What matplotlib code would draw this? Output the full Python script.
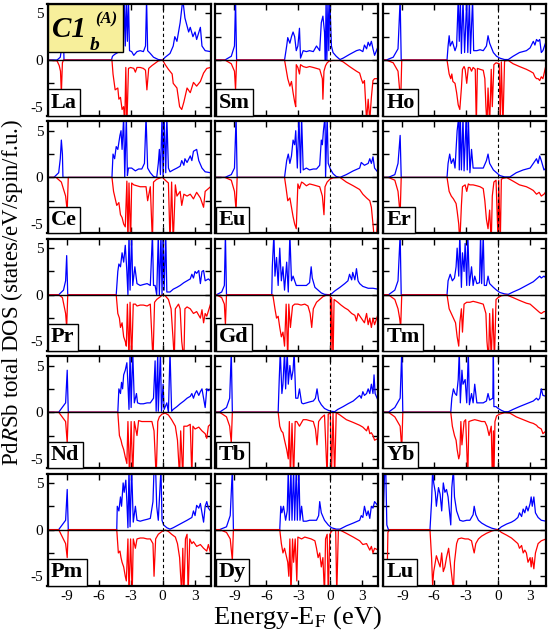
import matplotlib
matplotlib.use("Agg")
import matplotlib.pyplot as plt
from matplotlib.patches import Rectangle
from matplotlib.ticker import MultipleLocator

plt.rcParams["font.family"] = ["Liberation Serif", "DejaVu Serif"]
plt.rcParams["mathtext.fontset"] = "stix"
plt.rcParams["axes.unicode_minus"] = False

ELEMENTS = [["La", "Sm", "Ho"],
            ["Ce", "Eu", "Er"],
            ["Pr", "Gd", "Tm"],
            ["Nd", "Tb", "Yb"],
            ["Pm", "Dy", "Lu"]]

# (energy in eV, DOS) pairs; spin-down given as magnitude
LA_UP = [(-10.8,0),(-9.9,0),(-9.6,0.3),(-9.45,1.5),(-9.35,4.0),(-9.25,0),(-4.8,0),(-4.7,0.4),(-4.5,0.6),(-4.2,0.8),(-3.9,0.9),(-3.7,1.0),(-3.6,6.5),(-3.5,1.5),(-3.4,6.5),(-3.3,2.0),(-3.2,6.5),(-3.1,1.0),(-2.9,0.9),(-2.7,0.5),(-2.4,0.9),(-2.1,1.0),(-1.8,0.9),(-1.6,1.5),(-1.5,6.5),(-1.4,1.0),(-1.15,0.7),(-0.85,0.3),(-0.4,0.05),(0,0),(0.25,0.3),(0.7,0.7),(1.0,1.5),(1.15,2.5),(1.35,2.0),(1.65,4.0),(1.9,6.5),(2.1,4.5),(2.45,3.0),(2.6,3.5),(2.85,2.5),(3.05,3.0),(3.2,2.2),(3.55,3.5),(3.7,1.5),(4.0,1.0),(4.5,0.9)]
LA_DN = [(-10.8,0),(-9.9,0.1),(-9.7,0.6),(-9.58,1.2),(-9.5,3.6),(-9.4,0.3),(-9.3,0),(-4.75,0),(-4.65,1.5),(-4.45,3.2),(-4.2,3.0),(-4.1,4.2),(-3.95,4.0),(-3.8,5.3),(-3.65,5.0),(-3.55,7),(-3.45,0.8),(-3.35,7),(-3.2,0.9),(-3.0,0.8),(-2.7,0.9),(-2.55,1.3),(-2.4,0.8),(-2.1,0.8),(-1.8,0.9),(-1.6,1.1),(-1.47,3.2),(-1.3,0.9),(-1.0,0.6),(-0.7,0.35),(-0.4,0.1),(0,0),(0.25,0.5),(0.55,1.0),(0.9,1.5),(1.0,2.5),(1.35,3.0),(1.6,5.0),(1.8,5.3),(2.0,4.5),(2.3,3.0),(2.6,3.5),(2.9,2.4),(3.2,2.8),(3.55,2.3),(3.85,1.4),(4.15,0.9),(4.5,0.8)]

SM_UP = [(-10.8,0),(-9.9,0),(-9.3,0.4),(-9.0,1.5),(-8.9,6.5),(-8.8,0),(-4.3,0),(-4.1,1.5),(-4.0,2.4),(-3.8,1.8),(-3.65,2.5),(-3.5,3.0),(-3.35,2.5),(-3.2,1.0),(-3.05,1.5),(-2.9,3.4),(-2.8,0.2),(-2.55,1.0),(-2.25,0.9),(-1.95,1.0),(-1.6,0.9),(-1.3,1.5),(-1.0,1.0),(-0.85,4.0),(-0.7,4.7),(-0.55,3.0),(-0.47,0),(-0.4,6.5),(-0.33,0),(-0.22,6.5),(-0.15,1.0),(-0.05,6.5),(0.1,1.5),(0.25,0.8),(0.55,0.4),(0.9,0.05),(1.2,0.2),(1.8,0.6),(2.45,1.0),(2.75,1.1),(3.05,0.9),(3.2,1.6),(3.4,1.2),(3.55,1.9),(3.7,1.5),(3.85,2.0),(4.0,1.2),(4.15,0.5),(4.5,1.5)]
SM_DN = [(-10.8,0),(-9.9,0),(-9.3,0.4),(-9.0,1.2),(-8.9,3.2),(-8.8,0),(-4.3,0),(-4.15,1.0),(-4.0,2.0),(-3.8,2.8),(-3.65,2.3),(-3.5,3.5),(-3.35,4.5),(-3.25,5.0),(-3.2,0.5),(-3.05,0.8),(-2.9,1.5),(-2.8,0.5),(-2.55,0.7),(-2.25,0.8),(-1.95,0.7),(-1.6,0.8),(-1.3,0.9),(-1.0,1.0),(-0.75,2.0),(-0.7,4.2),(-0.6,1.2),(-0.45,0.6),(-0.3,0.3),(-0.1,0.1),(0.25,0.05),(0.9,0.05),(1.2,0.2),(1.8,0.7),(2.45,1.2),(2.75,1.4),(2.9,2.0),(3.05,2.5),(3.2,2.2),(3.4,6.5),(3.55,4.2),(3.7,6.5),(3.85,4.0),(4.0,2.2),(4.15,2.0),(4.5,2.0)]

HO_UP = [(-10.8,0),(-10.5,0),(-9.85,0.3),(-9.4,1.2),(-9.2,6.5),(-9.1,0),(-4.8,0),(-4.7,1.5),(-4.6,2.6),(-4.5,1.5),(-4.3,2.0),(-4.05,1.0),(-3.9,1.5),(-3.75,6.5),(-3.65,2.0),(-3.55,6.5),(-3.45,0.7),(-3.3,6.5),(-3.15,0.8),(-2.95,6.5),(-2.85,0.8),(-2.7,6.5),(-2.6,0.7),(-2.4,6.5),(-2.3,1.0),(-2.0,1.0),(-1.7,1.1),(-1.4,1.0),(-1.1,1.5),(-0.95,2.6),(-0.8,1.8),(-0.45,0.8),(-0.15,0.4),(0.15,0.2),(0.6,0.05),(0.95,0.05),(1.4,0.4),(2.0,0.8),(2.65,1.0),(3.0,1.3),(3.3,2.0),(3.45,1.6),(3.6,2.2),(3.75,2.0),(3.9,2.2),(4.05,0.8),(4.2,1.0),(4.5,2.0)]
HO_DN = [(-10.8,0),(-10.5,0),(-9.85,0.3),(-9.4,1.2),(-9.15,4.5),(-9.05,0),(-4.8,0),(-4.6,1.5),(-4.45,2.0),(-4.35,1.5),(-4.25,2.3),(-4.05,2.5),(-3.9,3.5),(-3.75,4.8),(-3.6,5.3),(-3.45,3.0),(-3.35,1.0),(-3.2,0.7),(-3.1,1.0),(-2.95,2.5),(-2.8,0.8),(-2.65,0.8),(-2.5,1.2),(-2.35,0.8),(-2.15,1.0),(-2.05,7),(-1.95,0.9),(-1.7,1.0),(-1.4,1.1),(-1.25,2.0),(-1.15,5.0),(-1.05,7),(-0.95,3.0),(-0.8,7),(-0.65,1.0),(-0.55,5.0),(-0.4,0.5),(-0.2,0.3),(0.1,0.4),(0.2,7),(0.3,0.2),(0.45,7),(0.6,0.1),(0.95,0.05),(1.4,0.4),(2.0,0.7),(2.65,1.0),(3.0,1.2),(3.3,1.4),(3.45,1.8),(3.6,2.0),(3.75,2.0),(3.9,2.2),(4.05,1.8),(4.2,2.0),(4.5,0.5)]

CE_UP = [(-10.8,0),(-10.2,0),(-9.75,0.5),(-9.6,2.0),(-9.5,4.0),(-9.4,2.5),(-9.35,0),(-4.75,0),(-4.65,2.5),(-4.5,2.0),(-4.35,3.3),(-4.2,3.0),(-4.0,4.5),(-3.9,5.0),(-3.8,3.0),(-3.65,6.5),(-3.55,0),(-3.4,6.5),(-3.3,0.2),(-3.2,1.0),(-2.9,1.0),(-2.55,0.7),(-2.25,0.9),(-1.95,0.9),(-1.7,1.5),(-1.55,6.5),(-1.4,1.0),(-1.15,0.5),(-0.85,0.1),(-0.55,0),(-0.4,1.5),(-0.3,3.0),(-0.2,0.3),(-0.05,6.5),(0.05,0),(0.15,6.5),(0.3,0.5),(0.4,6.5),(0.55,1.0),(0.7,0.6),(1.0,0.8),(1.35,1.0),(1.65,1.2),(1.8,1.8),(2.0,1.3),(2.1,2.0),(2.3,1.6),(2.6,2.3),(2.75,1.8),(2.9,2.8),(3.2,3.0),(3.4,1.8),(3.7,1.0),(4.0,0.6),(4.5,0.5)]
CE_DN = [(-10.8,0),(-10.0,0),(-9.5,0.5),(-9.1,2.0),(-8.95,3.6),(-8.85,0),(-4.75,0),(-4.6,1.5),(-4.3,3.0),(-4.1,2.7),(-3.95,4.0),(-3.8,4.3),(-3.65,5.0),(-3.5,5.3),(-3.35,0.4),(-3.25,7),(-3.15,0.6),(-3.0,7),(-2.9,0.6),(-2.7,0.8),(-2.4,0.9),(-2.1,1.0),(-1.8,1.0),(-1.55,1.0),(-1.4,2.5),(-1.15,1.0),(-0.95,7),(-0.85,0.5),(-0.55,0.2),(-0.2,0.05),(0,0),(0.25,0.3),(0.55,0.6),(0.7,7),(0.85,0.5),(1.0,7),(1.2,0.8),(1.35,2.0),(1.65,1.5),(1.8,3.0),(2.0,1.8),(2.3,2.0),(2.6,1.8),(2.9,2.3),(3.2,1.6),(3.55,2.2),(3.85,3.2),(4.0,1.5),(4.5,1.0)]

EU_UP = [(-10.8,0),(-9.9,0),(-9.3,0.3),(-9.0,1.0),(-8.85,6.5),(-8.75,0),(-4.3,0),(-4.1,1.8),(-3.95,2.5),(-3.8,1.5),(-3.65,2.3),(-3.5,4.0),(-3.35,3.5),(-3.25,5.0),(-3.1,1.0),(-2.95,6.5),(-2.8,0.5),(-2.7,6.5),(-2.55,0.8),(-2.25,1.0),(-1.95,0.8),(-1.6,0.9),(-1.3,0.9),(-1.0,1.3),(-0.85,4.0),(-0.75,3.5),(-0.65,5.0),(-0.5,6.5),(-0.45,0),(-0.3,6.5),(-0.2,1.5),(0,0.9),(0.25,0.4),(0.55,0.1),(0.9,0),(1.5,0.3),(2.15,0.7),(2.75,1.0),(2.9,1.6),(3.2,1.3),(3.55,1.5),(3.7,2.0),(3.85,1.5),(4.0,2.2),(4.15,1.0),(4.5,0.5)]
EU_DN = [(-10.8,0),(-9.9,0),(-9.3,0.3),(-9.0,1.5),(-8.85,3.5),(-8.75,0),(-4.3,0),(-4.15,1.2),(-4.0,2.5),(-3.8,2.2),(-3.65,3.2),(-3.5,4.2),(-3.35,5.0),(-3.2,5.5),(-3.05,0.7),(-2.9,1.2),(-2.7,0.5),(-2.55,0.6),(-2.25,0.9),(-1.95,0.7),(-1.6,0.8),(-1.3,0.9),(-1.0,1.0),(-0.75,2.0),(-0.6,4.0),(-0.5,1.0),(-0.3,0.5),(-0.05,0.2),(0.25,0.05),(0.9,0),(1.5,0.5),(2.15,0.9),(2.75,1.3),(3.05,1.8),(3.4,2.2),(3.7,2.5),(3.85,3.2),(4.0,5.0),(4.15,7),(4.3,7),(4.5,3.0)]

ER_UP = [(-10.8,0),(-10.3,0),(-9.7,0.3),(-9.4,1.5),(-9.2,4.5),(-9.1,0),(-4.8,0),(-4.7,1.5),(-4.55,2.5),(-4.4,1.5),(-4.2,2.0),(-4.05,1.0),(-3.85,5.0),(-3.7,6.5),(-3.65,0.8),(-3.55,6.5),(-3.45,0.8),(-3.3,6.5),(-3.2,0.7),(-3.0,6.5),(-2.9,0.8),(-2.8,6.5),(-2.65,0.5),(-2.5,3.0),(-2.35,1.0),(-2.0,1.0),(-1.7,1.0),(-1.4,1.0),(-1.1,1.8),(-0.95,2.5),(-0.8,1.5),(-0.45,0.8),(-0.15,0.5),(0.15,0.2),(0.6,0.05),(1.1,0.05),(1.7,0.5),(2.35,0.8),(3.0,1.0),(3.3,1.5),(3.6,2.0),(3.75,1.5),(3.9,2.3),(4.05,1.8),(4.3,0.8),(4.5,1.0)]
ER_DN = [(-10.8,0),(-10.3,0),(-9.7,0.3),(-9.4,1.5),(-9.2,4.0),(-9.1,0),(-4.8,0),(-4.6,1.5),(-4.4,2.0),(-4.2,2.3),(-3.95,2.8),(-3.85,3.6),(-3.7,5.0),(-3.6,7),(-3.45,3.0),(-3.35,1.0),(-3.1,0.8),(-2.95,1.5),(-2.8,0.7),(-2.65,0.8),(-2.35,0.8),(-2.0,0.9),(-1.7,1.0),(-1.4,1.2),(-1.25,2.5),(-1.1,4.5),(-0.95,5.5),(-0.8,3.5),(-0.65,7),(-0.55,2.0),(-0.4,0.5),(-0.2,0.3),(0,7),(0.05,0.3),(0.2,7),(0.3,0.2),(0.45,0.1),(0.8,0.02),(1.4,0.4),(2.0,0.8),(2.65,1.0),(3.0,1.2),(3.3,1.4),(3.6,1.8),(3.85,1.6),(4.05,2.0),(4.3,1.8),(4.5,1.5)]

PR_UP = [(-10.8,0),(-9.75,0),(-9.3,0.5),(-9.1,1.5),(-9.0,4.2),(-8.9,0),(-4.35,0),(-4.2,2.5),(-4.1,3.3),(-3.95,3.0),(-3.8,4.5),(-3.65,3.5),(-3.5,5.3),(-3.35,2.5),(-3.25,0),(-3.15,6.5),(-3.05,0.5),(-2.9,6.5),(-2.8,1.0),(-2.6,3.0),(-2.4,1.2),(-2.1,1.0),(-1.8,1.1),(-1.45,1.2),(-1.15,1.0),(-0.95,6.5),(-0.85,1.0),(-0.7,1.0),(-0.55,0),(-0.4,6.5),(-0.3,0),(-0.15,6.5),(-0.05,0),(0.05,6.5),(0.15,0.5),(0.3,6.5),(0.4,0.3),(0.7,0.3),(1.0,0.6),(1.35,0.8),(1.65,1.0),(2.0,1.3),(2.3,1.5),(2.6,1.7),(2.75,2.2),(2.9,1.8),(3.05,2.5),(3.2,2.3),(3.4,2.6),(3.55,1.2),(3.7,2.5),(3.85,2.6),(4.0,1.5),(4.3,1.7),(4.5,1.5)]
PR_DN = [(-10.8,0),(-9.75,0),(-9.4,0.3),(-9.1,2.0),(-9.0,3.5),(-8.9,0),(-4.35,0),(-4.2,2.0),(-4.05,2.5),(-3.95,3.5),(-3.8,3.0),(-3.65,4.5),(-3.5,5.0),(-3.4,5.5),(-3.3,1.0),(-3.15,7),(-3.05,0.8),(-2.9,7),(-2.75,1.0),(-2.55,1.0),(-2.4,1.2),(-2.1,1.1),(-1.8,1.1),(-1.45,1.2),(-1.15,1.0),(-0.9,7),(-0.75,0.8),(-0.55,0.5),(-0.2,0.2),(0,0),(0.25,0.1),(0.55,0.5),(0.8,1.5),(1.0,5.0),(1.1,7),(1.2,1.5),(1.5,1.0),(1.65,1.5),(1.8,5.0),(2.0,7),(2.1,1.5),(2.3,1.3),(2.6,1.5),(2.9,2.0),(3.2,1.8),(3.55,2.5),(3.7,1.6),(3.85,3.0),(4.0,2.0),(4.15,2.3),(4.5,1.0)]

GD_UP = [(-10.8,0),(-10.7,0),(-10.2,0.3),(-9.95,1.0),(-9.85,6.5),(-9.75,0),(-5.5,0),(-5.45,3.0),(-5.3,6.5),(-5.2,2.0),(-5.05,4.0),(-4.9,1.0),(-4.75,5.0),(-4.6,1.5),(-4.45,3.0),(-4.3,0.5),(-4.1,3.5),(-3.95,0.3),(-3.8,6.5),(-3.65,1.5),(-3.5,2.0),(-3.35,1.5),(-3.2,1.0),(-2.9,1.0),(-2.55,1.0),(-2.25,1.0),(-1.95,1.3),(-1.8,3.0),(-1.7,1.8),(-1.45,0.8),(-1.15,0.5),(-0.85,0.2),(-0.55,0.05),(0,0),(0.4,0.4),(0.9,0.8),(1.35,1.2),(1.65,1.5),(1.8,2.2),(2.0,1.6),(2.1,2.4),(2.3,1.6),(2.45,2.8),(2.6,1.5),(2.75,1.2),(3.05,0.9),(3.55,0.7),(4.0,0.7),(4.5,0.6)]
GD_DN = [(-10.8,0),(-10.7,0),(-10.2,0.3),(-9.95,1.0),(-9.85,3.2),(-9.75,0),(-5.4,0),(-5.2,1.5),(-5.05,2.5),(-4.9,2.3),(-4.75,3.5),(-4.6,4.5),(-4.45,4.0),(-4.3,5.5),(-4.15,1.0),(-4.0,7),(-3.9,1.0),(-3.75,3.5),(-3.55,1.2),(-3.35,1.0),(-3.05,1.0),(-2.75,1.1),(-2.4,1.0),(-2.1,1.2),(-1.9,2.0),(-1.75,3.5),(-1.6,1.5),(-1.3,0.8),(-1.0,0.5),(-0.7,0.2),(-0.4,0.05),(0,0),(0.05,7),(0.12,0.3),(0.25,7),(0.35,0.5),(0.7,0.8),(1.0,1.1),(1.35,1.4),(1.65,1.6),(2.0,2.0),(2.3,2.2),(2.45,2.8),(2.6,2.0),(2.9,2.5),(3.2,3.0),(3.4,2.0),(3.55,3.2),(3.7,2.5),(3.85,3.5),(4.0,2.5),(4.15,3.2),(4.5,2.0)]

TM_UP = [(-10.8,0),(-10.3,0),(-9.7,0.5),(-9.4,1.5),(-9.2,6.5),(-9.1,0),(-4.8,0),(-4.7,1.5),(-4.5,2.2),(-4.3,1.5),(-4.1,1.8),(-3.95,3.0),(-3.85,5.0),(-3.7,2.0),(-3.6,6.5),(-3.45,0.8),(-3.35,4.5),(-3.2,2.5),(-3.1,5.5),(-2.95,1.0),(-2.85,6.5),(-2.7,1.0),(-2.5,3.0),(-2.35,1.0),(-2.2,2.0),(-2.0,1.2),(-1.75,1.3),(-1.65,6.5),(-1.55,1.2),(-1.4,6.5),(-1.3,1.0),(-1.1,1.0),(-0.95,2.0),(-0.8,1.2),(-0.45,0.8),(-0.15,0.5),(0.15,0.25),(0.6,0.1),(0.95,0.05),(1.4,0.3),(2.0,0.6),(2.65,1.0),(3.3,1.4),(3.6,1.7),(3.9,2.0),(4.05,1.8),(4.3,2.0),(4.5,1.8)]
TM_DN = [(-10.8,0),(-10.3,0),(-9.7,0.5),(-9.4,1.5),(-9.25,2.5),(-9.15,3.5),(-9.05,0),(-4.8,0),(-4.6,1.5),(-4.4,2.0),(-4.2,2.5),(-4.0,3.0),(-3.85,4.5),(-3.7,5.5),(-3.6,3.0),(-3.45,1.5),(-3.35,4.0),(-3.2,1.0),(-2.95,0.8),(-2.65,0.8),(-2.35,0.7),(-2.0,0.8),(-1.7,0.9),(-1.4,1.0),(-1.15,2.0),(-1.05,5.0),(-0.9,7),(-0.8,2.0),(-0.65,7),(-0.5,1.5),(-0.35,7),(-0.2,0.5),(0,0.3),(0.3,0.1),(0.8,0.02),(1.4,0.3),(2.0,0.6),(2.65,0.9),(3.0,1.0),(3.3,1.3),(3.6,1.6),(3.9,1.9),(4.05,2.0),(4.3,1.8),(4.5,1.8)]

ND_UP = [(-10.8,0),(-9.75,0),(-9.1,1.0),(-8.95,4.5),(-8.85,0),(-4.2,0),(-4.1,2.5),(-3.95,2.0),(-3.85,3.2),(-3.75,2.5),(-3.65,4.0),(-3.5,4.5),(-3.35,5.3),(-3.25,3.0),(-3.15,0.3),(-3.05,6.5),(-2.95,0.5),(-2.8,6.5),(-2.65,1.0),(-2.45,2.0),(-2.35,1.0),(-2.1,0.9),(-1.8,0.9),(-1.45,1.0),(-1.15,1.0),(-0.85,1.5),(-0.7,5.5),(-0.6,0.1),(-0.45,6.5),(-0.4,0.1),(-0.2,6.5),(-0.1,0.1),(0.05,3.0),(0.15,0.3),(0.4,1.0),(0.55,0),(0.7,6.5),(0.85,0.1),(1.0,0.3),(1.35,0.6),(1.65,0.9),(2.0,1.2),(2.3,1.5),(2.6,1.7),(2.75,2.0),(2.9,1.5),(3.05,2.0),(3.2,2.3),(3.4,1.8),(3.55,2.2),(3.7,2.5),(3.85,1.5),(4.0,0.5),(4.15,2.5),(4.3,2.3),(4.5,2.5)]
ND_DN = [(-10.8,0),(-9.75,0),(-9.1,1.0),(-8.95,3.3),(-8.85,0),(-4.2,0),(-4.05,2.5),(-3.9,3.0),(-3.8,3.5),(-3.65,4.0),(-3.5,4.8),(-3.35,5.5),(-3.25,1.0),(-3.1,7),(-2.95,1.0),(-2.8,7),(-2.65,1.0),(-2.4,2.5),(-2.25,0.9),(-1.95,1.0),(-1.6,1.0),(-1.3,1.0),(-1.0,1.0),(-0.8,2.0),(-0.6,7),(-0.45,1.0),(-0.3,0.5),(-0.05,0.2),(0.25,0.1),(0.55,0.3),(0.85,0.8),(1.2,1.5),(1.4,3.0),(1.6,7),(1.7,2.0),(1.9,7),(2.0,1.5),(2.3,1.5),(2.6,1.3),(2.75,7),(2.85,1.5),(3.05,1.8),(3.4,1.6),(3.7,2.0),(4.0,2.3),(4.15,2.8),(4.3,1.5),(4.5,1.3)]

TB_UP = [(-10.8,0),(-10.4,0),(-9.75,0.5),(-9.45,1.5),(-9.3,6.5),(-9.2,0),(-4.9,0),(-4.8,3.5),(-4.7,6.5),(-4.55,2.0),(-4.45,3.0),(-4.3,6.5),(-4.2,2.5),(-4.05,6.5),(-3.95,3.0),(-3.8,5.0),(-3.65,3.5),(-3.5,4.5),(-3.4,6.5),(-3.25,1.5),(-3.05,1.5),(-2.9,2.5),(-2.7,1.0),(-2.55,0.9),(-2.25,1.0),(-1.95,1.1),(-1.6,1.2),(-1.4,1.5),(-1.25,2.5),(-1.1,1.3),(-0.85,0.8),(-0.55,0.4),(-0.2,0.2),(0.1,0.1),(0.4,0.05),(0.7,0.3),(1.2,0.6),(1.65,0.9),(2.15,1.2),(2.45,1.5),(2.75,1.8),(2.9,1.5),(3.05,2.2),(3.2,1.8),(3.4,2.0),(3.55,2.5),(3.7,2.0),(3.85,3.0),(4.0,2.0),(4.1,4.0),(4.2,2.0),(4.5,1.2)]
TB_DN = [(-10.8,0),(-10.4,0),(-9.75,0.5),(-9.45,1.5),(-9.3,3.3),(-9.2,0),(-4.9,0),(-4.75,1.5),(-4.6,2.0),(-4.45,2.2),(-4.3,3.0),(-4.1,4.0),(-3.95,5.0),(-3.85,1.0),(-3.75,7),(-3.6,1.2),(-3.45,7),(-3.3,1.0),(-3.15,1.0),(-2.9,1.5),(-2.55,0.8),(-2.25,0.8),(-1.95,0.9),(-1.6,1.0),(-1.4,1.8),(-1.25,3.5),(-1.1,1.0),(-0.85,0.6),(-0.55,0.3),(-0.3,7),(-0.2,0.2),(0,0.1),(0.1,7),(0.25,0.1),(0.4,7),(0.55,0.05),(0.9,0.3),(1.5,0.8),(2.15,1.1),(2.75,1.4),(3.05,1.6),(3.4,2.0),(3.55,1.5),(3.7,2.3),(3.85,2.2),(4.0,2.5),(4.15,3.0),(4.5,2.8)]

YB_UP = [(-10.8,0),(-10.3,0),(-9.7,0.5),(-9.2,1.5),(-9.05,6.5),(-8.95,0),(-4.45,0),(-4.35,1.5),(-4.2,2.5),(-4.05,2.0),(-3.9,1.8),(-3.75,3.5),(-3.65,6.5),(-3.55,1.0),(-3.4,4.5),(-3.3,3.0),(-3.1,3.5),(-2.95,1.0),(-2.8,6.5),(-2.7,0.8),(-2.5,2.0),(-2.35,1.0),(-2.2,3.0),(-2.0,1.0),(-1.7,1.0),(-1.4,1.0),(-1.1,1.2),(-0.95,2.0),(-0.8,1.3),(-0.5,1.5),(-0.45,6.5),(-0.4,0.6),(-0.2,0.6),(0,0.4),(0.3,0.2),(0.6,0.05),(0.95,0.05),(1.4,0.3),(2.0,0.6),(2.65,0.9),(3.3,1.2),(3.6,1.5),(3.75,1.3),(3.9,1.5),(4.05,2.5),(4.2,1.8),(4.5,1.7)]
YB_DN = [(-10.8,0),(-10.3,0),(-9.7,0.5),(-9.2,1.5),(-9.05,4.0),(-8.95,0),(-4.45,0),(-4.3,1.5),(-4.1,2.5),(-3.95,3.0),(-3.85,4.0),(-3.7,5.0),(-3.6,4.5),(-3.5,1.0),(-3.4,3.5),(-3.2,1.0),(-3.05,0.8),(-2.85,7),(-2.75,1.0),(-2.5,0.9),(-2.2,0.8),(-1.85,0.9),(-1.55,1.0),(-1.25,1.0),(-1.05,1.5),(-0.85,2.5),(-0.65,1.5),(-0.55,7),(-0.45,2.0),(-0.4,7),(-0.3,1.0),(-0.15,0.4),(0.15,0.2),(0.6,0.05),(1.1,0.1),(1.7,0.5),(2.35,0.8),(3.0,1.1),(3.3,1.2),(3.6,1.4),(3.75,1.6),(3.9,1.7),(4.05,1.8),(4.2,2.3),(4.5,2.0)]

PM_UP = [(-10.8,0),(-9.75,0),(-9.1,1.0),(-8.95,4.3),(-8.85,0),(-4.3,0),(-4.25,2.5),(-4.1,2.0),(-3.95,3.5),(-3.85,2.5),(-3.7,5.0),(-3.6,4.0),(-3.45,5.3),(-3.35,3.0),(-3.25,0.2),(-3.15,6.5),(-3.05,0.3),(-2.9,6.5),(-2.75,0.8),(-2.55,2.5),(-2.4,1.0),(-2.1,0.9),(-1.8,1.0),(-1.45,1.1),(-1.15,1.2),(-0.9,3.0),(-0.8,6.5),(-0.65,6.5),(-0.55,2.5),(-0.4,1.0),(-0.15,6.5),(-0.05,1.0),(0.1,0.5),(0.4,0.2),(0.7,0.05),(1.0,0.2),(1.65,0.6),(2.3,1.0),(2.75,1.3),(2.9,2.0),(3.05,1.5),(3.2,2.6),(3.4,2.3),(3.55,2.8),(3.7,1.8),(3.85,0.8),(4.0,2.5),(4.15,3.0),(4.3,2.3),(4.5,2.0)]
PM_DN = [(-10.8,0),(-9.75,0),(-9.1,1.5),(-8.95,3.0),(-8.85,0),(-4.3,0),(-4.15,2.5),(-4.0,2.3),(-3.9,3.0),(-3.8,3.5),(-3.65,4.0),(-3.5,5.0),(-3.4,5.5),(-3.25,1.0),(-3.15,7),(-3.0,1.0),(-2.85,7),(-2.75,1.0),(-2.55,2.0),(-2.4,1.0),(-2.1,0.9),(-1.8,0.9),(-1.45,1.0),(-1.15,1.0),(-0.9,1.5),(-0.8,5.0),(-0.65,1.0),(-0.4,0.5),(-0.05,0.2),(0.25,0.05),(0.55,0.2),(0.85,0.5),(1.2,0.8),(1.4,1.5),(1.6,3.0),(1.8,7),(1.9,2.0),(2.0,7),(2.15,1.0),(2.3,0.5),(2.4,7),(2.55,1.0),(2.75,1.5),(2.9,1.3),(3.2,1.8),(3.55,1.6),(3.85,2.0),(4.15,2.3),(4.3,1.6),(4.5,2.5)]

DY_UP = [(-10.8,0),(-10.4,0),(-9.75,0.3),(-9.4,1.5),(-9.2,6.5),(-9.1,0),(-4.75,0),(-4.65,2.5),(-4.55,1.8),(-4.4,2.5),(-4.2,1.0),(-4.05,2.0),(-3.95,6.5),(-3.85,1.0),(-3.7,6.5),(-3.6,1.0),(-3.45,6.5),(-3.35,1.0),(-3.2,6.5),(-3.1,1.0),(-2.95,6.5),(-2.85,1.0),(-2.7,2.5),(-2.55,0.9),(-2.25,0.9),(-1.95,1.0),(-1.6,1.0),(-1.3,1.0),(-1.1,1.5),(-1.0,3.0),(-0.85,1.8),(-0.55,1.0),(-0.2,0.5),(0.1,0.2),(0.55,0.05),(0.9,0.05),(1.5,0.4),(2.15,0.7),(2.75,1.0),(2.9,1.5),(3.05,1.3),(3.2,2.5),(3.4,1.5),(3.55,2.0),(3.7,1.2),(3.85,2.5),(4.0,2.3),(4.15,3.0),(4.5,2.5)]
DY_DN = [(-10.8,0),(-10.4,0),(-9.75,0.3),(-9.4,1.0),(-9.2,3.3),(-9.1,0),(-4.75,0),(-4.6,1.5),(-4.45,2.5),(-4.3,2.0),(-4.1,3.0),(-4.0,3.5),(-3.9,5.0),(-3.8,1.0),(-3.7,7),(-3.55,1.0),(-3.45,3.5),(-3.3,1.0),(-3.15,5.5),(-3.05,0.8),(-2.7,1.0),(-2.4,0.8),(-2.1,0.9),(-1.8,1.0),(-1.45,1.2),(-1.3,2.0),(-1.15,3.0),(-1.0,2.5),(-0.85,4.0),(-0.7,3.0),(-0.55,7),(-0.45,1.0),(-0.3,0.5),(-0.2,7),(-0.05,0.5),(0.1,0.2),(0.25,0.05),(0.5,0.05),(0.6,7),(0.75,0.1),(0.9,0.05),(1.5,0.4),(2.15,0.8),(2.75,1.2),(3.05,1.6),(3.4,1.5),(3.7,2.2),(3.85,1.8),(4.0,2.5),(4.15,2.0),(4.5,2.2)]

LU_UP = [(-10.8,1.0),(-10.65,6.5),(-10.55,6.5),(-10.45,0.5),(-10.3,0),(-6.4,0),(-6.25,3.0),(-6.15,6.5),(-6.05,5.0),(-5.9,4.0),(-5.8,2.5),(-5.6,4.5),(-5.45,3.8),(-5.3,2.0),(-5.15,5.0),(-5.0,4.0),(-4.85,4.3),(-4.7,3.5),(-4.45,0.5),(-4.35,4.5),(-4.2,6.5),(-4.1,3.5),(-3.9,2.0),(-3.75,1.5),(-3.6,1.0),(-3.3,0.9),(-2.95,1.0),(-2.65,1.0),(-2.35,1.6),(-2.25,2.5),(-2.1,1.6),(-1.85,1.0),(-1.55,0.7),(-1.1,0.4),(-0.6,0.15),(-0.15,0.02),(0,0),(0.3,0.3),(0.8,0.6),(1.25,0.8),(1.55,1.0),(1.85,1.3),(2.0,1.8),(2.2,1.4),(2.35,2.2),(2.5,1.8),(2.65,2.5),(2.8,2.0),(3.0,2.8),(3.1,3.5),(3.2,2.5),(3.35,3.5),(3.5,1.8),(3.75,1.3),(4.05,1.0),(4.5,0.9)]
LU_DN = [(-10.8,2.0),(-10.6,7),(-10.45,7),(-10.35,0.3),(-10.2,0),(-6.4,0),(-6.25,3.0),(-6.15,6.0),(-6.05,4.5),(-5.9,3.5),(-5.8,2.8),(-5.6,3.5),(-5.45,4.0),(-5.3,2.5),(-5.15,4.5),(-5.0,4.0),(-4.85,3.0),(-4.65,2.0),(-4.45,4.0),(-4.3,5.5),(-4.2,6.5),(-4.1,3.5),(-3.9,1.5),(-3.75,1.0),(-3.45,0.9),(-3.1,1.0),(-2.8,1.0),(-2.5,1.2),(-2.35,2.0),(-2.25,2.5),(-2.1,1.5),(-1.85,1.0),(-1.55,0.7),(-1.1,0.4),(-0.6,0.15),(-0.15,0.02),(0,0),(0.3,0.3),(0.8,0.6),(1.25,0.9),(1.55,1.2),(1.85,1.5),(2.0,2.0),(2.2,1.7),(2.35,2.5),(2.5,2.2),(2.65,2.5),(2.8,3.5),(3.0,3.0),(3.1,4.0),(3.2,3.0),(3.35,4.2),(3.5,2.5),(3.75,1.5),(4.05,1.2),(4.5,1.0)]

DOS = {
    "La": (LA_UP, LA_DN), "Sm": (SM_UP, SM_DN), "Ho": (HO_UP, HO_DN),
    "Ce": (CE_UP, CE_DN), "Eu": (EU_UP, EU_DN), "Er": (ER_UP, ER_DN),
    "Pr": (PR_UP, PR_DN), "Gd": (GD_UP, GD_DN), "Tm": (TM_UP, TM_DN),
    "Nd": (ND_UP, ND_DN), "Tb": (TB_UP, TB_DN), "Yb": (YB_UP, YB_DN),
    "Pm": (PM_UP, PM_DN), "Dy": (DY_UP, DY_DN), "Lu": (LU_UP, LU_DN),
}

X_TICKS = [-9, -6, -3, 0, 3]
Y_TICKS = [-5, 0, 5]

W, H = 550, 641
fig = plt.figure(figsize=(W / 100, H / 100), dpi=100)

col_left = [47.5, 215.3, 383.1]
panel_w = 163.0
row_top = [4.0, 121.4, 238.8, 356.2, 473.6]
panel_h = 112.0

for r, row in enumerate(ELEMENTS):
    for c, name in enumerate(row):
        ax = fig.add_axes([col_left[c] / W, 1 - (row_top[r] + panel_h) / H,
                           panel_w / W, panel_h / H])
        up, dn = DOS[name]
        ax.plot([p[0] for p in up], [p[1] for p in up], color="#0000ff", lw=0.9, zorder=2)
        ax.plot([p[0] for p in dn], [-p[1] for p in dn], color="#ff0000", lw=0.9, zorder=2)
        ax.axhline(0, color="black", lw=1.0, zorder=3)
        ax.axvline(0, color="black", lw=0.8, ls=(0, (3, 2.5)), zorder=3)
        ax.set_xlim(-10.8, 4.5)
        ax.set_ylim(-6, 6)
        ax.set_xticks(X_TICKS)
        ax.set_yticks(Y_TICKS)
        ax.yaxis.set_minor_locator(MultipleLocator(2.5))
        ax.tick_params(which="both", direction="in", top=True, right=True,
                       length=4.5, width=1.0, labelsize=11, pad=3)
        if c != 0:
            ax.set_yticklabels([])
        if r != len(ELEMENTS) - 1:
            ax.set_xticklabels([])
        for sp in ax.spines.values():
            sp.set_linewidth(1.6)
        ax.text(0.022, 0.03, name, transform=ax.transAxes, ha="left", va="bottom",
                fontsize=16, fontweight="bold", zorder=6,
                bbox=dict(boxstyle="square,pad=0.15", fc="white", ec="black", lw=1.0))
        if name == "La":
            ax.add_patch(Rectangle((0, 0.57), 0.465, 0.43, transform=ax.transAxes,
                                   fc="#f7ef9b", ec="black", lw=1.0, zorder=6))
            ax.text(0.028, 0.705, "C1", transform=ax.transAxes, fontsize=21,
                    fontweight="bold", fontstyle="italic", zorder=7)
            ax.text(0.26, 0.59, "b", transform=ax.transAxes, fontsize=14,
                    fontweight="bold", fontstyle="italic", zorder=7)
            ax.text(0.295, 0.83, "(A)", transform=ax.transAxes, fontsize=12,
                    fontweight="bold", fontstyle="italic", zorder=7)

fig.text(12 / W, (H - 292) / H, r"Pd$\mathit{R}$Sb total DOS (states/eV/spin/f.u.)",
         rotation=90, ha="center", va="center", fontsize=16.5)
fig.text(297 / W, 1 - 618 / H, r"Energy-E$_\mathrm{F}$ (eV)",
         ha="center", va="center", fontsize=19)

fig.savefig("out.png", dpi=100)
